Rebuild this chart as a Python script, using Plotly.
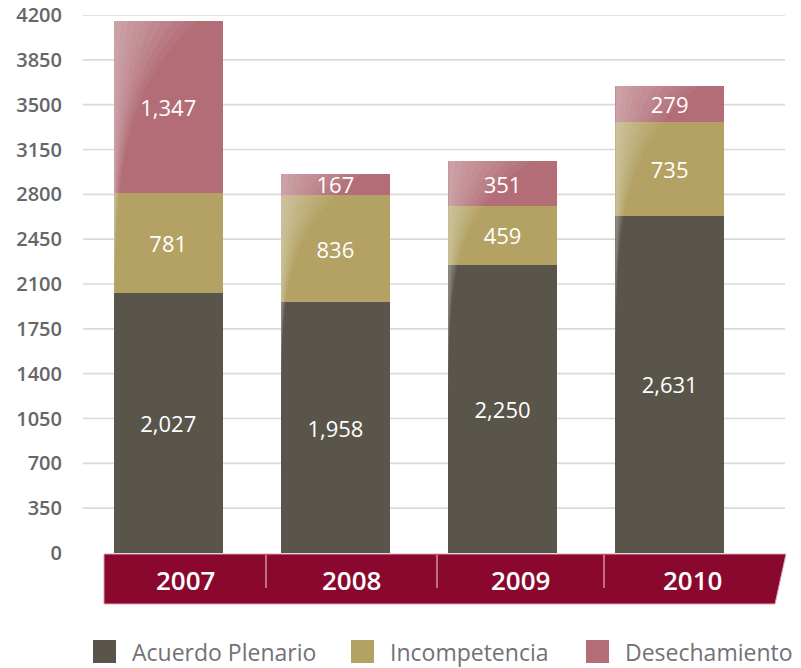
import plotly.graph_objects as go

# ---- data ----
years = ["2007", "2008", "2009", "2010"]
acuerdo_plenario = [2027, 1958, 2250, 2631]
incompetencia = [781, 836, 459, 735]
desechamiento = [1347, 167, 351, 279]
series_names = ["Acuerdo Plenario", "Incompetencia", "Desechamiento"]
y_ticks = [0, 350, 700, 1050, 1400, 1750, 2100, 2450, 2800, 3150, 3500, 3850, 4200]

# ---- style ----
colors = ["#5a554b", "#b3a263", "#b36d77"]
ribbon_color = "#8a072e"
FONT = "Open Sans"
W, H = 801, 668
ML, MR, MT, MB = 83, 16, 15, 115
PW, PH = W - ML - MR, H - MT - MB
BAR_W = 0.65

def px(xp):
    return (xp - ML) / PW

def py(yp):
    return (H - MB - yp) / PH

fig = go.Figure()
series = [acuerdo_plenario, incompetencia, desechamiento]
for name, vals, col in zip(series_names, series, colors):
    fig.add_trace(go.Bar(
        x=years, y=vals, name=name, marker=dict(color=col, line=dict(width=0)),
        width=BAR_W, text=[f"{v:,}" for v in vals], textposition="inside",
        insidetextanchor="middle", textangle=0,
        textfont=dict(color="white", size=22, family=FONT, weight=500),
        showlegend=False, hoverinfo="skip",
    ))

shapes = []
# gridlines (skip zero)
for t in y_ticks[1:]:
    shapes.append(dict(type="line", xref="paper", yref="y", x0=0, x1=1, y0=t, y1=t,
                       line=dict(color="#d9d9d9", width=1.6), layer="below"))

# glossy highlight on each bar, computed from stacked totals
totals = [a + b + c for a, b, c in zip(acuerdo_plenario, incompetencia, desechamiento)]
K = 7
N = 48
fracs = [1.0, 0.86, 0.72, 0.59, 0.47, 0.36, 0.26, 0.17, 0.09]
for i, tot in enumerate(totals):
    left = i - BAR_W / 2
    for frac in fracs:
        Wd = BAR_W * 0.76 * frac
        pts = [(left + Wd * (j / N) ** K, tot * j / N) for j in range(N + 1)]
        path = f"M {left},0 " + " ".join(f"L {x:.4f},{y:.2f}" for x, y in pts) + f" L {left},{tot} Z"
        shapes.append(dict(type="path", xref="x", yref="y", path=path,
                           fillcolor="white", opacity=0.05, line=dict(width=0), layer="above"))

# ribbon under the axis
rl, rr, rrb = px(104), px(786), px(775)
rt, rb = py(554), py(604)
shapes.append(dict(type="path", xref="paper", yref="paper",
                   path=f"M {rl},{rt} L {rr},{rt} L {rrb},{rb} L {rl},{rb} Z",
                   fillcolor=ribbon_color, line=dict(color="#d7a3b2", width=1), layer="above"))
cell_edges = [104, 266, 437, 604, 781]
for e in cell_edges[1:-1]:
    shapes.append(dict(type="line", xref="paper", yref="paper", x0=px(e), x1=px(e),
                       y0=py(555), y1=py(588), line=dict(color="#f2d5dc", width=1), layer="above"))

annotations = []
for k, yr in enumerate(years):
    cx = (cell_edges[k] + cell_edges[k + 1]) / 2
    annotations.append(dict(x=px(cx), y=py(580), xref="paper", yref="paper", text=yr,
                            showarrow=False, font=dict(color="white", size=26, family=FONT, weight=600),
                            xanchor="center", yanchor="middle"))

# custom legend
leg_sq = [93, 351, 586]
for name, col, sx in zip(series_names, colors, leg_sq):
    shapes.append(dict(type="rect", xref="paper", yref="paper", x0=px(sx), x1=px(sx + 23),
                       y0=py(663), y1=py(640), fillcolor=col, line=dict(width=0)))
    annotations.append(dict(x=px(sx + 37), y=py(652), xref="paper", yref="paper", text=name,
                            showarrow=False, font=dict(color="#727276", size=23, family=FONT, weight=500),
                            xanchor="left", yanchor="middle"))

fig.update_layout(
    barmode="stack",
    width=W, height=H,
    margin=dict(l=ML, r=MR, t=MT, b=MB, autoexpand=False),
    paper_bgcolor="white", plot_bgcolor="white",
    shapes=shapes, annotations=annotations,
    uniformtext=dict(minsize=22, mode="show"),
    xaxis=dict(type="category", range=[-0.51, 3.69], showticklabels=False, automargin=False,
               showgrid=False, zeroline=False, showline=False, ticks=""),
    yaxis=dict(range=[0, 4200], tickvals=y_ticks, ticktext=[str(t) for t in y_ticks],
               showgrid=False, zeroline=False, showline=False, ticks="", automargin=False,
               tickfont=dict(color="#666666", size=20, family=FONT, weight=600), ticklabelstandoff=20),
    font=dict(family=FONT),
)

fig.write_html("out.html", config={"displayModeBar": False},
               post_script="document.body.style.margin='0';")
